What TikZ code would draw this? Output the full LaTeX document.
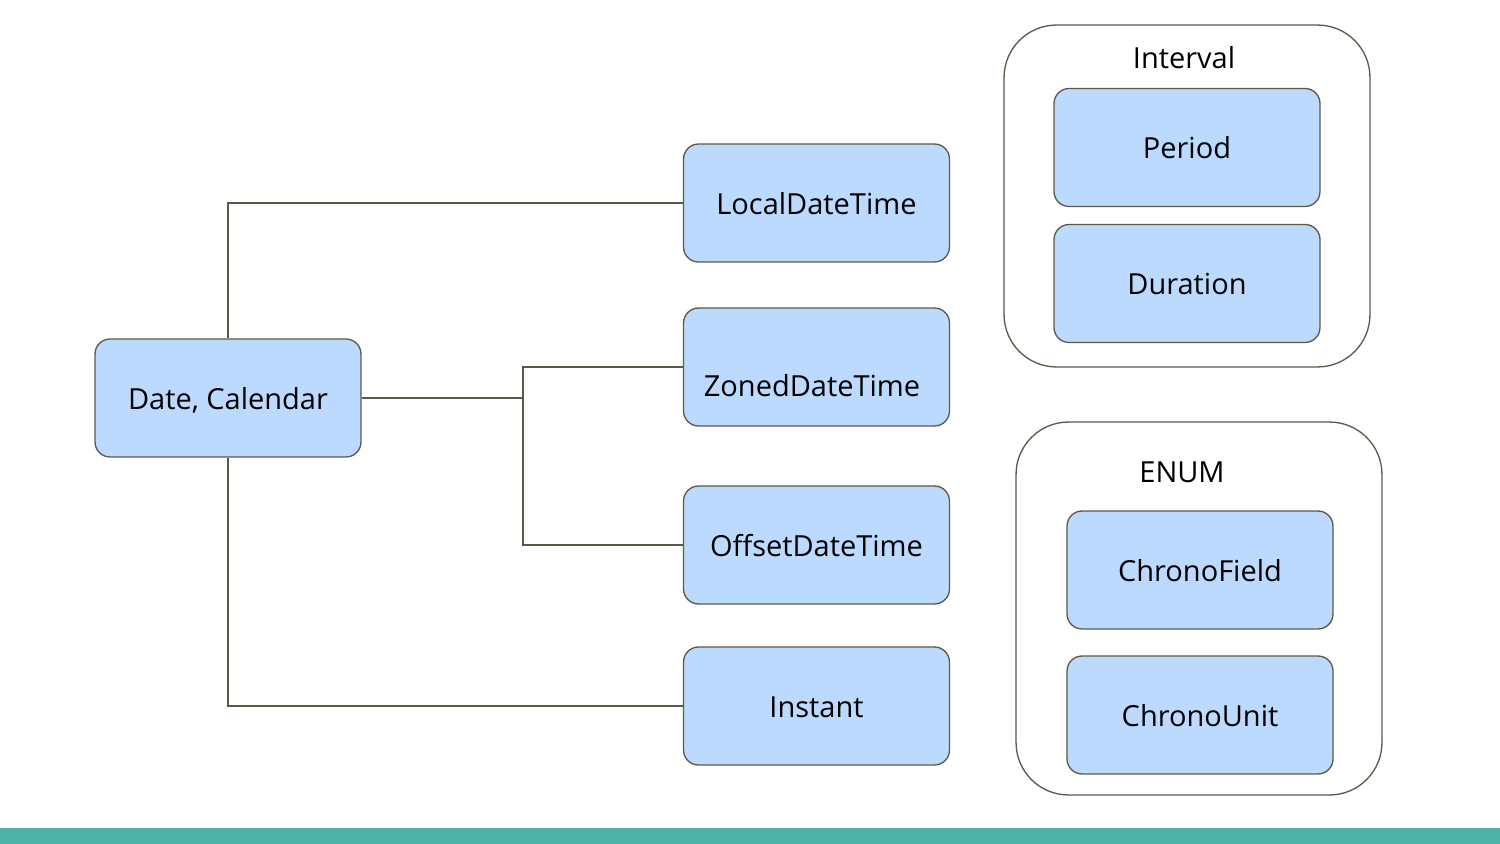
\documentclass[tikz,border=0pt]{standalone}
\usepackage{fontspec}
\setmainfont{Open Sans}
\usepackage{xcolor}
\usepackage{tikz}
\usetikzlibrary{positioning}

\definecolor{boxblue}{HTML}{BBDAFE}
\definecolor{edgegray}{HTML}{5E5848}
\definecolor{barteal}{HTML}{4DB3A6}

\begin{document}
\begin{tikzpicture}[
            x=0.02cm, y=-0.02cm,
            typebox/.style={rectangle, rounded corners=0.3cm, draw=edgegray, fill=boxblue, line width=0.75pt, minimum width=5.32cm, minimum height=2.36cm, inner sep=0pt, font=\fontsize{16.5}{20}\selectfont, text height=0.45cm, text depth=0cm},
            groupbox/.style={rectangle, rounded corners=1.05cm, draw=edgegray, fill=white, line width=0.75pt, minimum width=7.32cm, inner sep=0pt},
            grouptitle/.style={inner sep=0pt, font=\fontsize{16.5}{20}\selectfont, text height=0.45cm, text depth=0cm},
            link/.style={draw=edgegray, line width=0.75pt}
        ]

        \useasboundingbox (0,0) rectangle (1500,844);
        \fill[barteal] (0,828) rectangle (1500,844);

        % main types
        \node[typebox] (date) at (228,398) {Date, Calendar};
        \node[typebox] (local) at (816.5,203) {LocalDateTime};
        \node[typebox, text height=1.17cm] (zoned) at (816.5,367) {ZonedDateTime\hspace*{0.18cm}};
        \node[typebox] (offset) at (816.5,545) {OffsetDateTime};
        \node[typebox] (instant) at (816.5,706) {Instant};

        % groups
        \node[groupbox, minimum height=6.84cm] (interval) at (1187,196) {};
        \node[grouptitle] (intervaltitle) at (1184,57) {Interval};
        \node[typebox] (period) at (1187,147.5) {Period};
        \node[typebox] (duration) at (1187,283.5) {Duration};

        \node[groupbox, minimum height=7.46cm] (enum) at (1199,608.5) {};
        \node[grouptitle] (enumtitle) at (1182,471) {ENUM};
        \node[typebox] (field) at (1200,570) {ChronoField};
        \node[typebox] (unit) at (1200,715) {ChronoUnit};

        % connectors
        \coordinate (split) at (523,398);
        \draw[link] (date.north) |- (local.west);
        \draw[link] (date.south) |- (instant.west);
        \draw[link] (date.east) -- (split);
        \draw[link] (zoned.west) -| (split) |- (offset.west);

    \end{tikzpicture}
\end{document}
